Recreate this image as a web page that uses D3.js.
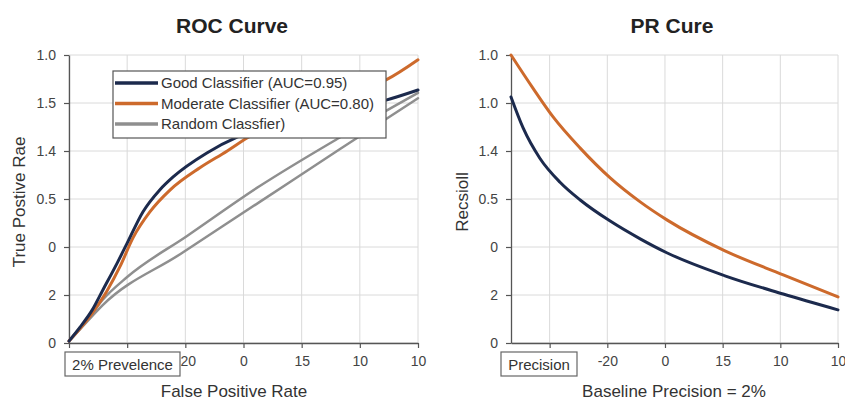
<!DOCTYPE html>
<html>
<head>
<meta charset="utf-8">
<script src="https://cdn.jsdelivr.net/npm/d3@7"></script>
<style>
  body { margin: 0; background: #fff; }
  svg { display: block; font-family: "Liberation Sans", Arial, sans-serif; }
</style>
</head>
<body>
<div id="chart"></div>
<script>
// --- data (tick index units) ---
const rocXLabels = ["", "", "-20", "0", "15", "10", "10"];
const rocYLabels = ["0", "2", "0", "0.5", "1.4", "1.5", "1.0"];
const prXLabels = ["", "-20", "0", "15", "10", "10"];
const prYLabels = ["0", "2", "0", "0.5", "1.4", "1.0", "1.0"];

const seriesNames = ["Good Classifier (AUC=0.95)", "Moderate Classifier (AUC=0.80)", "Random Classfier)"];
const seriesColors = ["#1c2a4d", "#cd6a2c", "#8f8f8f"];

const rocGoodX = [0, 0.19, 0.40, 0.58, 0.83, 1.00, 1.27, 1.56, 1.79, 2.37, 2.89, 3.63, 4.49, 5.45, 6.0];
const rocGoodY = [0.04, 0.33, 0.69, 1.10, 1.67, 2.08, 2.73, 3.19, 3.46, 3.96, 4.29, 4.56, 4.83, 5.06, 5.27];
const rocModX = [0, 0.40, 0.65, 0.88, 1.10, 1.39, 1.74, 2.25, 2.72, 3.06, 3.97, 4.83, 5.45, 6.0];
const rocModY = [0.04, 0.625, 1.08, 1.60, 2.19, 2.73, 3.19, 3.65, 4.00, 4.27, 4.79, 5.21, 5.48, 5.90];
const rocRandAX = [0, 0.29, 0.58, 1.00, 2.03, 3.28, 4.61, 6.0];
const rocRandAY = [0.04, 0.44, 0.90, 1.375, 2.23, 3.27, 4.25, 5.21];
const rocRandBX = [0, 0.29, 0.58, 1.91, 3.28, 4.66, 6.0];
const rocRandBY = [0.04, 0.42, 0.79, 1.85, 2.94, 4.04, 5.10];

const prModX = [0.33, 0.71, 1.06, 1.53, 2.05, 2.57, 3.04, 4.04, 5.05, 6.0];
const prModY = [6.0, 5.31, 4.71, 4.06, 3.44, 2.94, 2.56, 1.92, 1.42, 0.96];
const prGoodX = [0.33, 0.54, 0.83, 1.18, 1.53, 2.05, 2.57, 3.04, 4.04, 5.05, 6.0];
const prGoodY = [5.125, 4.48, 3.85, 3.35, 2.98, 2.54, 2.17, 1.875, 1.40, 1.02, 0.69];

const W = 845, H = 401;
const svg = d3.select("#chart").append("svg")
  .attr("width", W)
  .attr("height", H);

svg.append("rect").attr("width", W).attr("height", H).attr("fill", "#fff");

function drawPanel(opt) {
  const x = d3.scaleLinear().domain(opt.xDomain).range([opt.left, opt.right]);
  const y = d3.scaleLinear().domain([0, 6]).range([343, 55]);
  const xTicks = d3.range(opt.xLabels.length).map(i => i + opt.xFirst);
  const yTicks = d3.range(7);
  const g = svg.append("g");

  // grid
  g.selectAll(".vgrid").data(xTicks).enter().append("line")
    .attr("x1", d => x(d)).attr("x2", d => x(d))
    .attr("y1", y(0)).attr("y2", y(6))
    .attr("stroke", "#dadada").attr("stroke-width", 1);
  g.selectAll(".hgrid").data(yTicks).enter().append("line")
    .attr("x1", opt.left).attr("x2", opt.right)
    .attr("y1", d => y(d)).attr("y2", d => y(d))
    .attr("stroke", "#dadada").attr("stroke-width", 1);

  // axes
  const xAxis = g.append("g")
    .attr("transform", "translate(0," + y(0) + ")")
    .call(d3.axisBottom(x).tickValues(xTicks)
      .tickFormat((d, i) => opt.xLabels[i])
      .tickSize(5).tickSizeOuter(0).tickPadding(8));
  const yAxis = g.append("g")
    .attr("transform", "translate(" + opt.left + ",0)")
    .call(d3.axisLeft(y).tickValues(yTicks)
      .tickFormat((d, i) => opt.yLabels[i])
      .tickSize(5).tickSizeOuter(0).tickPadding(8));
  [xAxis, yAxis].forEach(a => {
    a.select(".domain").attr("stroke", "#555").attr("stroke-width", 1.3);
    a.selectAll(".tick line").attr("stroke", "#555").attr("stroke-width", 1.2);
    a.selectAll("text").attr("fill", "#444").style("font-size", "14px");
  });

  // curves
  const line = d3.line().x(d => x(d[0])).y(d => y(d[1])).curve(d3.curveMonotoneX);
  opt.series.forEach(s => {
    g.append("path")
      .attr("d", line(d3.zip(s.xs, s.ys)))
      .attr("fill", "none")
      .attr("stroke", s.color)
      .attr("stroke-width", s.width)
      .attr("stroke-linecap", "round");
  });

  // titles
  svg.append("text")
    .attr("x", opt.titleX).attr("y", 33)
    .attr("text-anchor", "middle")
    .style("font-size", "21px").style("font-weight", "bold")
    .attr("fill", "#222")
    .text(opt.title);
  svg.append("text")
    .attr("x", opt.titleX + 2).attr("y", 397)
    .attr("text-anchor", "middle")
    .style("font-size", "17px")
    .attr("fill", "#333")
    .text(opt.xTitle);
  svg.append("text")
    .attr("transform", "translate(" + opt.yTitleX + ",202) rotate(-90)")
    .attr("text-anchor", "middle")
    .style("font-size", "17px")
    .attr("fill", "#333")
    .text(opt.yTitle);

  // boxed note under the first ticks
  const nb = svg.append("g").attr("transform", "translate(" + opt.note.x + ",352)");
  nb.append("rect")
    .attr("width", opt.note.w).attr("height", 24)
    .attr("fill", "#fff").attr("stroke", "#666").attr("stroke-width", 1.2);
  nb.append("text")
    .attr("x", opt.note.w / 2).attr("y", 17.5)
    .attr("text-anchor", "middle")
    .style("font-size", "15px")
    .attr("fill", "#333")
    .text(opt.note.text);
}

drawPanel({
  left: 69, right: 418, xDomain: [0, 6], xFirst: 0,
  xLabels: rocXLabels, yLabels: rocYLabels,
  title: "ROC Curve", titleX: 232,
  xTitle: "False Positive Rate", yTitle: "True Postive Rae", yTitleX: 25,
  note: { x: 65, w: 115, text: "2% Prevelence" },
  series: [
    { xs: rocRandAX, ys: rocRandAY, color: seriesColors[2], width: 2.5 },
    { xs: rocRandBX, ys: rocRandBY, color: seriesColors[2], width: 2.5 },
    { xs: rocModX, ys: rocModY, color: seriesColors[1], width: 3 },
    { xs: rocGoodX, ys: rocGoodY, color: seriesColors[0], width: 3 }
  ]
});

drawPanel({
  left: 511, right: 838, xDomain: [0.33, 6], xFirst: 1,
  xLabels: prXLabels, yLabels: prYLabels,
  title: "PR Cure", titleX: 672,
  xTitle: "Baseline Precision = 2%", yTitle: "Recsioll", yTitleX: 468,
  note: { x: 501, w: 76, text: "Precision" },
  series: [
    { xs: prModX, ys: prModY, color: seriesColors[1], width: 3 },
    { xs: prGoodX, ys: prGoodY, color: seriesColors[0], width: 3 }
  ]
});

// legend on the ROC panel
const legend = svg.append("g").attr("transform", "translate(113,71)");
legend.append("rect")
  .attr("width", 273).attr("height", 67)
  .attr("fill", "#fff").attr("stroke", "#555").attr("stroke-width", 1.2);
const rows = legend.selectAll(".row").data(seriesNames).enter().append("g")
  .attr("transform", (d, i) => "translate(0," + (12 + i * 20.5) + ")");
rows.append("line")
  .attr("x1", 2).attr("x2", 45)
  .attr("stroke", (d, i) => seriesColors[i])
  .attr("stroke-width", 3.5);
rows.append("text")
  .attr("x", 48).attr("dy", "0.35em")
  .style("font-size", "15px")
  .attr("fill", "#333")
  .text(d => d);
</script>
</body>
</html>
